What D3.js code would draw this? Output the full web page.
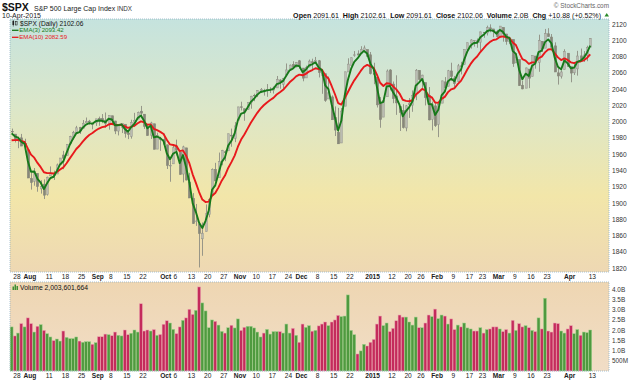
<!DOCTYPE html>
<html lang="en">
<head>
<meta charset="UTF-8" />
<title>$SPX S&amp;P 500 Large Cap Index</title>
<script src="https://cdn.jsdelivr.net/npm/d3@7"></script>
<style>
  body { margin: 0; background: #fff; }
  svg text { font-family: "Liberation Sans", Arial, sans-serif; }
</style>
</head>
<body>
<div id="chart"></div>
<script>
// ---- data (SPX daily, 24-Jul-2014 .. 10-Apr-2015) ----
const startDate = "2014-07-24";
const holidays = ["2014-09-01", "2014-11-27", "2014-12-25", "2015-01-01", "2015-01-19", "2015-02-16", "2015-04-03"];

const closes = [1987.98,1978.34,1978.91,1969.95,1970.07,1930.67,1925.15,1938.99,1920.21,1920.24,1909.57,1931.59,1936.92,1933.75,1946.72,1955.18,1955.06,1971.74,1981.60,1986.51,1992.37,1988.40,1997.92,2000.02,2000.12,1996.74,2003.37,2002.28,2000.72,1997.65,2007.71,2001.54,1988.44,1995.69,1997.45,1985.54,1984.13,1998.98,2001.57,2011.36,2010.40,1994.29,1982.77,1998.30,1965.99,1982.85,1977.80,1972.29,1946.16,1946.17,1967.90,1964.82,1935.10,1968.89,1928.21,1906.13,1874.74,1877.70,1862.49,1862.76,1886.76,1904.01,1941.28,1927.11,1950.82,1964.58,1961.63,1985.05,1982.30,1994.65,2018.05,2017.81,2012.10,2023.57,2031.21,2031.92,2038.26,2039.68,2038.25,2039.33,2039.82,2041.32,2051.80,2048.72,2052.75,2063.50,2069.41,2067.03,2072.83,2067.56,2053.44,2066.55,2074.33,2071.92,2075.37,2060.31,2059.82,2026.14,2035.33,2002.33,1989.63,1972.74,2012.89,2061.23,2070.65,2078.54,2082.17,2081.88,2088.77,2090.57,2080.35,2058.90,2058.20,2020.58,2002.61,2025.90,2062.14,2044.81,2028.26,2023.03,2011.27,1992.67,2019.42,2022.55,2032.12,2063.15,2051.82,2057.09,2029.55,2002.16,2021.25,1994.99,2020.85,2050.03,2041.51,2062.52,2055.47,2046.74,2068.59,2068.53,2088.48,2096.99,2100.34,2099.68,2097.45,2110.30,2109.66,2115.48,2113.86,2110.74,2104.50,2117.39,2107.78,2098.53,2101.04,2071.26,2079.43,2044.16,2040.24,2065.95,2053.40,2081.19,2074.28,2099.50,2089.27,2108.10,2104.42,2091.50,2061.05,2056.15,2061.02,2086.24,2067.89,2059.69,2066.96,2080.62,2076.33,2081.90,2091.18,2102.06];

const opens = [1988.07,1984.60,1978.25,1980.03,1973.21,1965.14,1929.80,1926.62,1936.34,1917.29,1923.03,1910.35,1933.43,1935.73,1935.60,1947.41,1958.87,1958.36,1972.73,1980.46,1986.82,1992.60,1991.74,1998.59,2000.54,1997.42,1998.45,2004.07,2003.57,2001.67,1998.00,2007.17,2000.73,1988.41,1992.85,1996.74,1986.04,1981.93,1999.30,2003.07,2012.74,2009.08,1992.78,1983.34,1997.32,1966.22,1978.96,1978.21,1971.44,1945.83,1948.12,1970.01,1962.36,1935.55,1967.68,1925.63,1905.65,1877.11,1874.18,1855.95,1864.91,1885.62,1909.38,1941.29,1931.02,1951.59,1962.97,1964.14,1983.29,1979.49,2001.20,2018.21,2015.81,2015.29,2023.33,2032.36,2032.01,2038.20,2037.75,2039.21,2039.74,2038.29,2041.48,2051.16,2045.87,2057.46,2065.07,2070.15,2067.36,2074.78,2065.78,2053.77,2067.45,2073.64,2072.78,2074.84,2056.55,2058.86,2027.92,2030.36,2005.03,1986.71,1973.77,2018.98,2061.04,2069.28,2081.48,2083.25,2084.30,2087.63,2088.49,2082.11,2058.90,2054.44,2022.15,2005.55,2030.61,2063.45,2046.13,2031.58,2018.40,2013.75,1992.25,2020.76,2020.19,2034.30,2062.98,2050.42,2047.86,2032.34,2002.45,2019.35,1996.67,2022.71,2048.86,2043.45,2062.28,2053.47,2049.38,2068.55,2069.98,2088.78,2096.47,2099.16,2099.25,2097.65,2109.83,2109.10,2115.30,2113.91,2110.88,2105.23,2115.76,2107.72,2098.54,2100.91,2072.25,2076.14,2044.69,2041.10,2064.56,2055.35,2080.59,2072.84,2098.69,2090.32,2107.99,2103.94,2093.10,2059.94,2055.78,2064.11,2084.05,2067.63,2060.03,2064.87,2080.79,2076.94,2081.29,2091.61];

const highs = [1991.39,1984.60,1981.52,1984.85,1978.90,1965.14,1937.35,1942.92,1936.34,1927.91,1928.89,1932.38,1944.90,1939.65,1948.41,1955.23,1964.04,1971.99,1982.57,1988.57,1994.76,1993.54,2001.95,2005.04,2002.14,1998.55,2003.38,2006.12,2009.28,2011.17,2007.71,2007.17,2001.01,1996.66,1997.65,1996.74,1987.18,2002.28,2010.74,2012.34,2019.26,2009.08,1995.41,1999.79,1997.32,1986.37,1981.28,1985.17,1971.44,1952.32,1971.19,1977.84,1962.36,1970.36,1967.68,1936.98,1912.09,1898.71,1874.18,1876.01,1898.16,1905.03,1942.45,1949.31,1961.95,1965.27,1964.64,1985.05,1991.40,1999.40,2018.19,2024.46,2015.98,2023.77,2031.61,2034.26,2038.70,2041.28,2040.33,2046.18,2042.22,2043.07,2056.08,2052.14,2053.84,2071.46,2070.17,2074.21,2073.29,2075.76,2065.78,2068.77,2076.28,2077.34,2079.47,2075.78,2060.60,2058.86,2055.53,2032.25,2018.69,2016.89,2016.75,2061.23,2077.85,2078.76,2086.73,2087.56,2092.70,2093.55,2088.49,2085.58,2072.36,2054.44,2030.25,2029.61,2064.08,2064.43,2049.30,2056.93,2018.40,2021.35,2020.46,2028.94,2038.29,2064.62,2062.98,2057.62,2047.86,2042.49,2024.64,2023.32,2021.66,2050.30,2054.74,2063.55,2072.40,2056.16,2070.86,2073.48,2088.53,2097.03,2101.30,2100.23,2102.13,2110.61,2110.05,2117.94,2119.59,2113.91,2112.74,2117.52,2115.76,2107.72,2104.25,2100.91,2083.49,2076.14,2050.08,2066.41,2064.56,2081.41,2080.59,2106.85,2098.69,2113.92,2114.86,2107.63,2097.43,2067.15,2062.83,2088.97,2084.05,2067.63,2072.17,2086.99,2089.81,2086.69,2093.31,2102.61];

const lows = [1985.79,1974.37,1967.31,1969.95,1962.42,1930.67,1916.37,1921.20,1913.77,1911.45,1904.78,1909.01,1933.43,1928.29,1935.60,1947.41,1941.50,1958.36,1972.73,1977.68,1986.82,1984.76,1991.74,1998.59,1996.20,1990.52,1994.65,1994.85,1998.14,1992.44,1990.10,1995.60,1984.61,1982.99,1985.93,1980.26,1978.48,1979.06,1993.29,2003.07,2006.59,1991.01,1982.77,1978.63,1965.99,1966.22,1964.04,1968.96,1941.72,1926.03,1948.12,1958.43,1934.87,1925.25,1927.56,1906.05,1874.14,1871.79,1820.66,1835.02,1864.91,1882.30,1909.38,1926.83,1931.02,1946.27,1951.37,1964.14,1969.04,1974.75,2001.20,2013.68,2001.01,2014.42,2015.86,2025.07,2030.17,2035.28,2031.95,2030.44,2035.20,2034.46,2041.48,2040.37,2040.49,2056.75,2065.07,2064.75,2066.62,2065.06,2049.57,2053.77,2066.65,2062.34,2070.81,2054.27,2034.17,2024.26,2027.92,2002.33,1982.26,1972.56,1973.77,2018.98,2061.03,2069.28,2079.77,2081.86,2084.30,2085.75,2079.53,2057.94,2046.04,2017.34,1992.44,2005.55,2030.61,2038.33,2022.58,2008.25,1988.44,1991.47,1988.12,2004.49,2012.04,2026.38,2050.54,2040.97,2019.91,2001.49,1989.18,1993.38,1980.90,2022.71,2036.72,2043.45,2049.97,2041.88,2048.62,2057.99,2069.98,2086.70,2089.80,2092.15,2090.79,2085.44,2103.00,2105.87,2109.89,2103.76,2103.75,2104.50,2098.26,2094.49,2095.22,2067.27,2072.21,2044.16,2039.69,2041.10,2041.17,2055.35,2065.08,2061.23,2085.56,2090.32,2104.42,2091.50,2061.05,2045.50,2052.96,2064.11,2067.04,2048.38,2057.32,2056.52,2076.10,2073.30,2074.29,2091.61];

// volume in billions of shares
const volumes = [2.15,1.71,1.85,2.31,2.15,2.59,2.31,1.90,2.18,2.26,1.98,1.82,1.66,1.48,1.56,1.46,1.95,1.64,1.58,1.58,1.66,1.46,1.40,1.43,1.43,1.30,1.38,1.67,1.67,1.80,1.77,1.72,1.90,1.74,1.71,2.00,1.77,1.84,2.00,1.90,3.28,1.95,2.00,1.95,2.02,1.74,1.78,2.28,
  2.45,2.34,2.03,1.82,2.15,2.47,2.59,3.01,2.76,2.96,4.10,3.32,2.93,2.11,2.49,2.42,2.24,1.93,1.85,2.11,2.23,2.10,2.54,
  1.98,2.13,2.18,2.18,2.10,1.90,1.66,1.85,2.03,1.80,1.92,1.92,1.92,1.85,2.29,1.85,2.08,1.74,1.40,
  2.29,2.13,2.21,1.94,1.98,2.20,2.29,2.39,2.21,2.39,2.49,2.71,2.65,2.68,3.71,1.98,1.77,0.83,0.98,1.30,1.22,1.40,
  1.54,2.29,2.68,2.21,2.34,1.92,2.08,2.45,2.73,2.63,2.63,2.39,2.24,2.63,2.11,2.11,2.34,2.73,2.65,3.02,
  2.55,2.73,2.68,2.29,2.54,2.02,2.24,2.15,2.34,2.10,2.05,1.95,1.95,2.11,1.85,2.02,2.05,2.15,2.15,
  2.05,1.92,2.02,1.85,2.47,1.98,2.31,2.15,2.21,2.11,1.98,1.92,2.59,2.05,3.55,1.95,1.90,2.34,2.31,1.95,1.85,2.05,
  2.21,1.82,2.02,1.74,1.90,1.87,2.00];

const prevClose = 1987.01;          // close before the first bar (colours the first volume bar)
const emaPeriods = [3, 10];
const emaStart = [1985.5, 1977.0];   // EMA values at the left edge of the chart
const emaLegend = ["EMA(3) 2093.42", "EMA(10) 2082.59"];
const volumeLegend = "Volume 2,003,601,664";

const priceTicks = [1820, 1840, 1860, 1880, 1900, 1920, 1940, 1960, 1980, 2000, 2020, 2040, 2060, 2080, 2100, 2120];
const volumeTicks = [0.5, 1.0, 1.5, 2.0, 2.5, 3.0, 3.5, 4.0];
const volumeTickLabels = ["500M", "1.0B", "1.5B", "2.0B", "2.5B", "3.0B", "3.5B", "4.0B"];
const dateTicks = ["2014-07-28","2014-08-01","2014-08-11","2014-08-18","2014-08-25","2014-09-02","2014-09-08","2014-09-15","2014-09-22","2014-10-01","2014-10-06","2014-10-13","2014-10-20","2014-10-27","2014-11-03","2014-11-10","2014-11-17","2014-11-24","2014-12-01","2014-12-08","2014-12-15","2014-12-22","2015-01-02","2015-01-12","2015-01-20","2015-01-26","2015-02-02","2015-02-09","2015-02-17","2015-02-23","2015-03-02","2015-03-09","2015-03-16","2015-03-23","2015-04-01","2015-04-13"];
const dateTickLabels = ["28","Aug","11","18","25","Sep","8","15","22","Oct","6","13","20","27","Nov","10","17","24","Dec","8","15","22","2015","12","20","26","Feb","9","17","23","Mar","9","16","23","Apr","13"];

// ---- trading calendar ----
const fmt = d3.utcFormat("%Y-%m-%d");
const calendar = d3.utcDays(new Date(startDate + "T00:00Z"), new Date("2015-05-01T00:00Z"))
  .filter(d => d.getUTCDay() % 6 !== 0 && !holidays.includes(fmt(d)))
  .map(fmt);
const dayIndex = new Map(calendar.map((d, i) => [d, i]));

const bars = closes.map((c, i) => ({
  i, close: c, open: opens[i], high: highs[i], low: lows[i], vol: volumes[i],
  up: c >= (i === 0 ? prevClose : closes[i - 1])
}));

function ema(values, period, start) {
  const k = 2 / (period + 1);
  let prev = start;
  return values.map((v, i) => (prev = i === 0 ? start : prev + k * (v - prev)));
}
const emas = emaPeriods.map((p, j) => ema(closes, p, emaStart[j]));

// ---- layout ----
const W = 640, H = 382;
const L = 10, R = 609;
const pTop = 19, pBot = 272, vTop = 282, vBot = 371;

const x = d3.scaleLinear().domain([-0.5, 184.8]).range([L, R]);
const y = d3.scaleLinear().domain([1820, 2120]).range([268, 24]);
const yv = d3.scaleLinear().domain([0, 4]).range([vBot, 289]);

const svg = d3.select("#chart").append("svg")
  .attr("width", W).attr("height", H)
  .style("display", "block");

const defs = svg.append("defs");
const g1 = defs.append("linearGradient").attr("id", "pbg").attr("x1", 0).attr("y1", 0).attr("x2", 0).attr("y2", 1);
[["0%", "#c5e3de"], ["35%", "#dce7c9"], ["70%", "#f2e6a9"], ["100%", "#eed8b3"]]
  .forEach(s => g1.append("stop").attr("offset", s[0]).attr("stop-color", s[1]));
const g2 = defs.append("linearGradient").attr("id", "vbg").attr("x1", 0).attr("y1", 0).attr("x2", 0).attr("y2", 1);
[["0%", "#eed6b2"], ["100%", "#f1ddc6"]]
  .forEach(s => g2.append("stop").attr("offset", s[0]).attr("stop-color", s[1]));
defs.append("clipPath").attr("id", "pclip").append("rect")
  .attr("x", L).attr("y", pTop).attr("width", R - L).attr("height", pBot - pTop);

// panels
svg.append("rect").attr("x", L).attr("y", pTop).attr("width", R - L).attr("height", pBot - pTop)
  .attr("fill", "url(#pbg)");
svg.append("rect").attr("x", L).attr("y", vTop).attr("width", R - L).attr("height", vBot - vTop)
  .attr("fill", "url(#vbg)");

// candles
const cg = svg.append("g").attr("clip-path", "url(#pclip)");
const candle = cg.selectAll("g.c").data(bars).join("g").attr("class", "c");
candle.append("line")
  .attr("x1", d => Math.round(x(d.i)) + 0.5).attr("x2", d => Math.round(x(d.i)) + 0.5)
  .attr("y1", d => y(d.high)).attr("y2", d => y(d.low))
  .attr("stroke", "#8d8d82").attr("stroke-width", 0.9);
candle.append("rect")
  .attr("x", d => Math.round(x(d.i)) - 0.6).attr("width", 2.2)
  .attr("y", d => y(Math.max(d.open, d.close)))
  .attr("height", d => Math.max(0.6, Math.abs(y(d.open) - y(d.close))))
  .attr("fill", d => d.close >= d.open ? "rgba(255,255,255,0.35)" : "#87877a")
  .attr("stroke", d => d.close >= d.open ? "#95958b" : "#87877a")
  .attr("stroke-width", 0.6);

// EMA lines
const emaColors = ["#17791a", "#e8191c"];
emas.slice().reverse().forEach((vals, k) => {
  const j = emas.length - 1 - k;
  cg.append("path")
    .datum(vals)
    .attr("fill", "none")
    .attr("stroke", emaColors[j])
    .attr("stroke-width", 1.9)
    .attr("stroke-linejoin", "round")
    .attr("d", d3.line().x((v, i) => x(i)).y(v => y(v)));
});

// volume bars
svg.append("g").selectAll("rect").data(bars).join("rect")
  .attr("x", d => x(d.i) - 1.45).attr("width", 2.9)
  .attr("y", d => yv(d.vol)).attr("height", d => vBot - yv(d.vol))
  .attr("fill", d => d.up ? "#4f9a3f" : "#c42b5c")
  .attr("stroke", d => d.up ? "#9fcf8c" : "#eaa0ae")
  .attr("stroke-width", 0.5);

// panel borders (dotted)
[[pTop, pBot], [vTop, vBot]].forEach(([t, b]) => {
  svg.append("rect").attr("x", L).attr("y", t).attr("width", R - L).attr("height", b - t)
    .attr("fill", "none").attr("stroke", "#93b3c6").attr("stroke-width", 0.8)
    .attr("stroke-dasharray", "1,1");
});

// price axis
svg.append("g").attr("transform", `translate(${R},0)`)
  .call(d3.axisRight(y).tickValues(priceTicks).tickSize(0).tickPadding(3).tickFormat(d3.format("d")))
  .call(g => g.select(".domain").remove())
  .call(g => g.selectAll("text").attr("font-size", 6.6).attr("fill", "#333")
    .attr("font-family", "Liberation Sans, Arial, sans-serif"));

// volume axis
svg.append("g").attr("transform", `translate(${R},0)`)
  .call(d3.axisRight(yv).tickValues(volumeTicks).tickSize(0).tickPadding(3)
    .tickFormat((d, i) => volumeTickLabels[i]))
  .call(g => g.select(".domain").remove())
  .call(g => g.selectAll("text").attr("font-size", 6.4).attr("fill", "#333")
    .attr("font-family", "Liberation Sans, Arial, sans-serif"));

// date axes (between panels and at the bottom)
const tickPos = dateTicks.map(d => dayIndex.get(d) - 0.5);
[pBot, vBot].forEach(yy => {
  svg.append("g").attr("transform", `translate(0,${yy})`)
    .call(d3.axisBottom(x).tickValues(tickPos).tickSize(0).tickPadding(2.5)
      .tickFormat((d, i) => dateTickLabels[i]))
    .call(g => g.select(".domain").remove())
    .call(g => g.selectAll("text").attr("font-size", 6.6).attr("fill", "#222")
      .attr("font-family", "Liberation Sans, Arial, sans-serif")
      .attr("font-weight", (d, i) => /^\d{1,2}$/.test(dateTickLabels[i]) ? "normal" : "bold"));
});

// header
svg.append("text").attr("x", 2).attr("y", 11).attr("font-size", 10.5).attr("font-weight", "bold")
  .attr("fill", "#111").text("$SPX");
svg.append("text").attr("x", 34).attr("y", 11).attr("font-size", 7).attr("fill", "#222")
  .text("S&P 500 Large Cap Index");
svg.append("text").attr("x", 117).attr("y", 11).attr("font-size", 6.3).attr("fill", "#333").text("INDX");
svg.append("text").attr("x", 2).attr("y", 17.5).attr("font-size", 7).attr("fill", "#222").text("10-Apr-2015");
svg.append("text").attr("x", 609).attr("y", 8).attr("text-anchor", "end").attr("font-size", 6.4)
  .attr("fill", "#666").text("\u00a9 StockCharts.com");

const last = bars[bars.length - 1];
const chg = last.close - closes[closes.length - 2];
const info = [
  ["Open", true], [" " + last.open.toFixed(2) + "  ", false],
  ["High", true], [" " + last.high.toFixed(2) + "  ", false],
  ["Low", true], [" " + last.low.toFixed(2) + "  ", false],
  ["Close", true], [" " + last.close.toFixed(2) + "  ", false],
  ["Volume", true], [" " + last.vol.toFixed(1) + "B  ", false],
  ["Chg", true], [" +" + chg.toFixed(2) + " (+" + (chg / closes[closes.length - 2] * 100).toFixed(2) + "%) ", false]
];
const infoText = svg.append("text").attr("x", 603).attr("y", 17.5).attr("text-anchor", "end")
  .attr("font-size", 7.1).attr("fill", "#111").style("white-space", "pre");
info.forEach(([t, b]) => infoText.append("tspan").attr("font-weight", b ? "bold" : "normal").text(t));
svg.append("path").attr("d", "M604.5,16.5 L609,16.5 L606.75,13 Z").attr("fill", "#2a8a2a");

// price legend
svg.append("rect").attr("x", 12.5).attr("y", 21).attr("width", 1.6).attr("height", 4).attr("fill", "#222");
svg.append("line").attr("x1", 13.3).attr("x2", 13.3).attr("y1", 20).attr("y2", 26.5).attr("stroke", "#222").attr("stroke-width", 0.6);
svg.append("rect").attr("x", 15.5).attr("y", 21.5).attr("width", 1.6).attr("height", 3.5).attr("fill", "none").attr("stroke", "#222").attr("stroke-width", 0.6);
svg.append("text").attr("x", 20).attr("y", 25.8).attr("font-size", 6.6)
  .attr("font-family", "Liberation Mono, DejaVu Sans Mono, monospace").attr("fill", "#111")
  .text("$SPX (Daily) " + last.close.toFixed(2));
emaLegend.forEach((t, j) => {
  const yy = 32.3 + j * 7;
  svg.append("line").attr("x1", 12).attr("x2", 18.5).attr("y1", yy - 2).attr("y2", yy - 2)
    .attr("stroke", emaColors[j]).attr("stroke-width", 1.3);
  svg.append("text").attr("x", 19.3).attr("y", yy).attr("font-size", 6.1).attr("fill", emaColors[j]).text(t);
});

// volume legend
[[12.5, 3.5], [14.5, 5.5], [16.5, 4]].forEach(([bx, bh]) =>
  svg.append("rect").attr("x", bx).attr("y", 290 - bh).attr("width", 1.5).attr("height", bh).attr("fill", "#3f8f32"));
svg.append("text").attr("x", 20).attr("y", 290.3).attr("font-size", 6.8)
  .attr("font-family", "Liberation Mono, DejaVu Sans Mono, monospace").attr("fill", "#111")
  .text(volumeLegend);
</script>
</body>
</html>
